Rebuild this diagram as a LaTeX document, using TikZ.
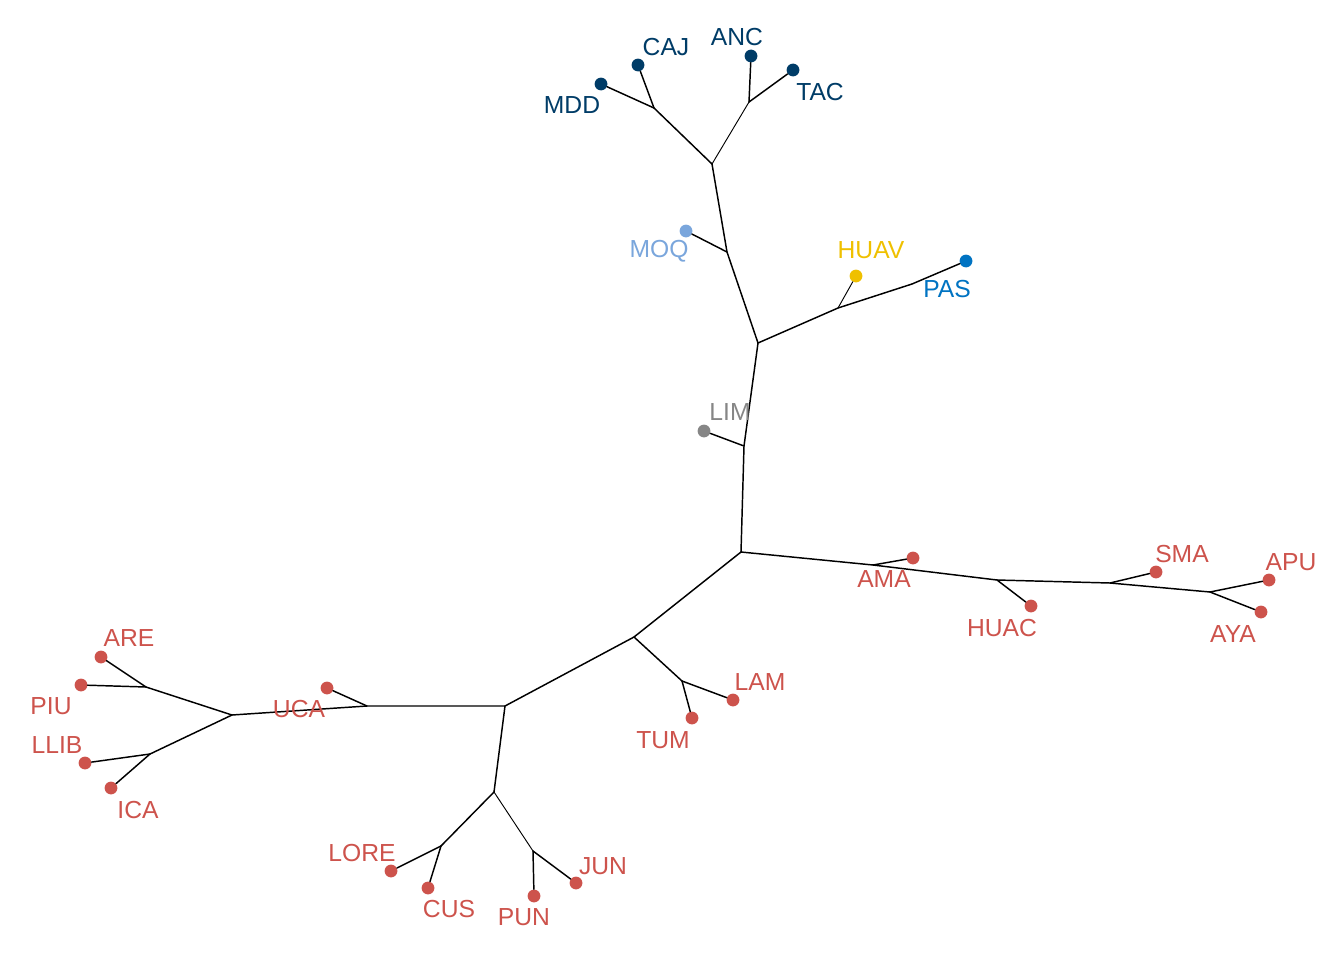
\documentclass[tikz,border=0pt]{standalone}
\usepackage{fontspec}
\setmainfont{Liberation Sans}
\definecolor{jred}{HTML}{CD534C}
\definecolor{jnavy}{HTML}{003C67}
\definecolor{jblue}{HTML}{0073C2}
\definecolor{jyellow}{HTML}{EFC000}
\definecolor{jgray}{HTML}{868686}
\definecolor{jlblue}{HTML}{7AA6DC}
\begin{document}
\begin{tikzpicture}[x=0.75pt,y=-0.75pt,
  tip/.style={circle,fill=#1,inner sep=0pt,minimum size=9.6pt},
  lab/.style={text=#1,font=\fontsize{18.5}{21}\selectfont,inner sep=0pt},
  br/.style={line width=1.1pt,line cap=round,line join=round},
  thin br/.style={line width=0.7pt,line cap=round}]
\useasboundingbox (0,0) rectangle (1344,960);
% internal coordinates
\coordinate (ntop) at (712,164);
\coordinate (la) at (654,108);
\coordinate (ra) at (749,102);
\coordinate (jmoq) at (727,252);
\coordinate (n2) at (758,343);
\coordinate (jhuav) at (838,308);
\coordinate (kpas) at (912,284);
\coordinate (jlim) at (744,446);
\coordinate (n3) at (741,552);
\coordinate (jama) at (873,565);
\coordinate (jhuac) at (997,580);
\coordinate (jsma) at (1110,583);
\coordinate (japu) at (1210,592);
\coordinate (n4) at (634,637);
\coordinate (jlam) at (682,681);
\coordinate (n5) at (505,706);
\coordinate (juca) at (367,706);
\coordinate (n6) at (232,715);
\coordinate (jare) at (146,687);
\coordinate (jllib) at (150,754);
\coordinate (n7) at (494,792);
\coordinate (jlore) at (441,846);
\coordinate (jpun) at (533,851);
% edges
\draw[br] (ntop) -- (la);
\draw[thin br] (ntop) -- (ra);
\draw[br] (ntop) -- (jmoq) -- (n2) -- (jlim) -- (n3);
\draw[br] (n2) -- (jhuav) -- (kpas);
\draw[br] (n3) -- (jama) -- (jhuac) -- (jsma) -- (japu);
\draw[br] (n3) -- (n4) -- (n5) -- (juca) -- (n6);
\draw[br] (n4) -- (jlam);
\draw[br] (n6) -- (jare);
\draw[br] (n6) -- (jllib);
\draw[br] (n5) -- (n7) -- (jlore);
\draw[thin br] (n7) -- (jpun);
% leaves
\node[tip=jnavy] (mdd) at (601,84) {};
\node[tip=jnavy] (caj) at (638,65) {};
\node[tip=jnavy] (anc) at (751,56) {};
\node[tip=jnavy] (tac) at (793,70) {};
\node[tip=jlblue] (moq) at (686,231) {};
\node[tip=jyellow] (huav) at (856,276) {};
\node[tip=jblue] (pas) at (966,261) {};
\node[tip=jgray] (lim) at (704,431) {};
\node[tip=jred] (ama) at (913,558) {};
\node[tip=jred] (huac) at (1031,606) {};
\node[tip=jred] (sma) at (1156,572) {};
\node[tip=jred] (apu) at (1269,580) {};
\node[tip=jred] (aya) at (1261,612) {};
\node[tip=jred] (lam) at (733,700) {};
\node[tip=jred] (tum) at (692,718) {};
\node[tip=jred] (uca) at (327,688) {};
\node[tip=jred] (are) at (101,657) {};
\node[tip=jred] (piu) at (81,685) {};
\node[tip=jred] (llib) at (85,763) {};
\node[tip=jred] (ica) at (111,788) {};
\node[tip=jred] (lore) at (391,871) {};
\node[tip=jred] (cus) at (428,888) {};
\node[tip=jred] (pun) at (534,896) {};
\node[tip=jred] (jun) at (576,883) {};
% leaf edges
\draw[br] (la) -- (mdd);
\draw[br] (la) -- (caj);
\draw[br] (ra) -- (anc);
\draw[br] (ra) -- (tac);
\draw[br] (jmoq) -- (moq);
\draw[thin br] (jhuav) -- (huav);
\draw[br] (kpas) -- (pas);
\draw[br] (jlim) -- (lim);
\draw[br] (jama) -- (ama);
\draw[br] (jhuac) -- (huac);
\draw[br] (jsma) -- (sma);
\draw[br] (japu) -- (apu);
\draw[br] (japu) -- (aya);
\draw[br] (jlam) -- (lam);
\draw[br] (jlam) -- (tum);
\draw[br] (juca) -- (uca);
\draw[br] (jare) -- (are);
\draw[br] (jare) -- (piu);
\draw[br] (jllib) -- (llib);
\draw[br] (jllib) -- (ica);
\draw[br] (jlore) -- (lore);
\draw[br] (jlore) -- (cus);
\draw[br] (jpun) -- (pun);
\draw[br] (jpun) -- (jun);
% labels
\node[lab=jnavy] (tmdd) at (572,105) {MDD};
\node[lab=jnavy] (tcaj) at (666,47) {CAJ};
\node[lab=jnavy] (tanc) at (737,37) {ANC};
\node[lab=jnavy] (ttac) at (820,92) {TAC};
\node[lab=jlblue] (tmoq) at (659,251) {MOQ};
\node[lab=jyellow] (thuav) at (871,250) {HUAV};
\node[lab=jblue] (tpas) at (947,289) {PAS};
\node[lab=jgray] (tlim) at (730,412) {LIM};
\node[lab=jred] (tama) at (884,579) {AMA};
\node[lab=jred] (thuac) at (1002,628) {HUAC};
\node[lab=jred] (tsma) at (1182,554) {SMA};
\node[lab=jred] (tapu) at (1291,562) {APU};
\node[lab=jred] (taya) at (1233,634) {AYA};
\node[lab=jred] (tare) at (129,638) {ARE};
\node[lab=jred] (tpiu) at (51,706) {PIU};
\node[lab=jred] (tuca) at (299,709) {UCA};
\node[lab=jred] (tllib) at (57,745) {LLIB};
\node[lab=jred] (tica) at (138,810) {ICA};
\node[lab=jred] (tlam) at (760,682) {LAM};
\node[lab=jred] (ttum) at (663,740) {TUM};
\node[lab=jred] (tlore) at (362,853) {LORE};
\node[lab=jred] (tcus) at (449,909) {CUS};
\node[lab=jred] (tpun) at (524,917) {PUN};
\node[lab=jred] (tjun) at (603,866) {JUN};
\end{tikzpicture}
\end{document}
